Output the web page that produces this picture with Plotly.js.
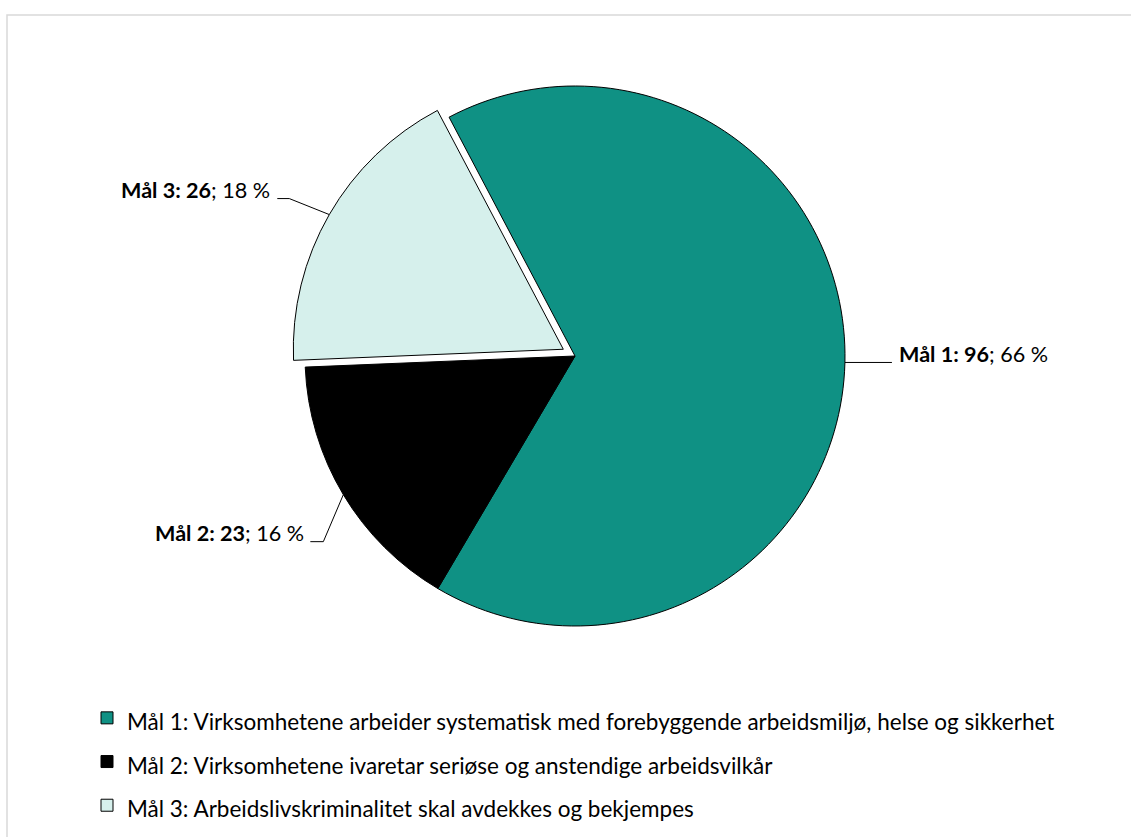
<!DOCTYPE html>
<html><head><meta charset="utf-8">
<script src="https://cdn.plot.ly/plotly-3.0.1.min.js"></script>
<style>html,body{margin:0;padding:0;background:#fff;} #chart{width:1131px;height:837px;position:absolute;left:0;top:0;}</style>
</head><body><div id="chart"></div>
<script>
// ---- data ----
const goalNames = ["Mål 1", "Mål 2", "Mål 3"];
const goalDescriptions = [
  "Virksomhetene arbeider systematisk med forebyggende arbeidsmiljø, helse og sikkerhet",
  "Virksomhetene ivaretar seriøse og anstendige arbeidsvilkår",
  "Arbeidslivskriminalitet skal avdekkes og bekjempes"
];
const counts = [96, 23, 26];

// ---- style ----
const sliceColors = ["#0f9184", "#000000", "#d6f0ec"];
const slicePull = [0, 0, 0.05];
const FONT = "Lato, sans-serif";
const LABEL_SIZE = 21.6, LEGEND_SIZE = 22.5;
const W = 1131, H = 837;
const CX = 575, CY = 356, R = 270, ROT = -27.8;
// leader-line layout relative to the slice anchor
const leader = [
  {dx: 47, dy: 0, run: 0, side: "right", gap: 5},
  {dx: -20, dy: 47, run: -13, side: "left", gap: 4},
  {dx: -40, dy: -16, run: -12, side: "left", gap: 5}
];

const px = x => x / W, py = y => 1 - y / H;
const total = counts.reduce((a, b) => a + b, 0);
const maxPull = Math.max(...slicePull);
const half = R * (1 + maxPull);

const legendLabels = goalNames.map((n, i) => `<span style="font-size:${LEGEND_SIZE}px">${n}: ${goalDescriptions[i]}</span>`);

// annotations + leader lines from slice mid-angles
const annotations = [], shapes = [];
let cum = 0;
counts.forEach((v, i) => {
  const mid = (ROT + (cum + v / 2) / total * 360) * Math.PI / 180;
  cum += v;
  const rr = R * (1 + slicePull[i]);
  const ax = CX + rr * Math.sin(mid), ay = CY - rr * Math.cos(mid);
  const L = leader[i];
  const ex = ax + L.dx, ey = ay + L.dy;
  const hx = ex + L.run;
  shapes.push({type: "path", xref: "paper", yref: "paper",
    path: `M${px(ax)},${py(ay)} L${px(ex)},${py(ey)} L${px(hx)},${py(ey)}`,
    line: {color: "#000", width: 1}});
  const pct = Math.round(v / total * 100);
  const tx = L.side === "right" ? hx + L.gap : hx - L.gap;
  annotations.push({xref: "paper", yref: "paper", x: px(tx), y: py(ey - 0.38 * LABEL_SIZE),
    xanchor: L.side === "right" ? "left" : "right", yanchor: "middle", showarrow: false,
    text: `<b>${goalNames[i]}: ${v}</b>; ${pct} %`,
    font: {family: FONT, size: LABEL_SIZE, color: "#000"}});
});

// outer frame
shapes.push({type: "rect", xref: "paper", yref: "paper", layer: "below",
  x0: px(7), y0: py(15), x1: px(W + 20), y1: py(H + 20),
  line: {color: "#d9d9d9", width: 1.5}, fillcolor: "rgba(0,0,0,0)"});

const trace = {
  type: "pie", labels: legendLabels, values: counts, sort: false,
  direction: "clockwise", rotation: ROT, pull: slicePull,
  marker: {colors: sliceColors, line: {color: "#000", width: 1}},
  textinfo: "none", hoverinfo: "none",
  domain: {x: [px(CX - half), px(CX + half)], y: [py(CY + half), py(CY - half)]}
};

const layout = {
  width: W, height: H, margin: {l: 0, r: 0, t: 0, b: 0},
  paper_bgcolor: "#fff", plot_bgcolor: "#fff",
  font: {family: FONT, color: "#000"},
  showlegend: true,
  legend: {x: px(87), y: py(691), xanchor: "left", yanchor: "top",
    font: {family: FONT, size: 31.3, color: "#000"}, bgcolor: "rgba(0,0,0,0)"},
  annotations, shapes
};
Plotly.newPlot("chart", [trace], layout, {displayModeBar: false, staticPlot: true});
</script></body></html>
